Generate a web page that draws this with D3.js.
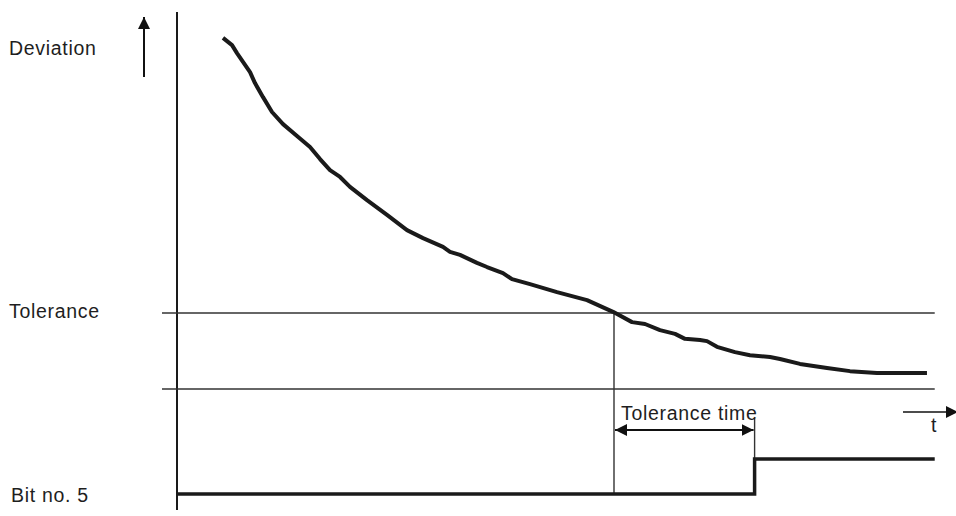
<!DOCTYPE html>
<html>
<head>
<meta charset="utf-8">
<script src="https://cdn.jsdelivr.net/npm/d3@7"></script>
<style>
  body { margin: 0; background: #fff; }
  text { font-family: "Liberation Sans", Arial, sans-serif; font-size: 19.5px; letter-spacing: 0.7px; fill: #1e1e1e; }
</style>
</head>
<body>
<div id="chart"></div>
<script>
// deviation curve (time 0..100, deviation 0..100)
const timeData = [6.05, 7.24, 7.89, 8.68, 9.61, 10.26, 11.32, 12.5, 13.95, 15.79, 17.5, 18.82,
  20.13, 21.45, 22.76, 25.0, 27.63, 30.26, 32.37, 35.0, 35.92, 37.24, 39.47, 40.79, 42.89,
  44.08, 46.45, 50.0, 53.95, 57.37, 59.87, 61.58, 63.55, 65.53, 66.84, 68.82, 69.74, 71.05,
  73.42, 75.39, 78.03, 79.34, 81.97, 85.53, 88.55, 92.1, 98.68];
const deviation = [92.4, 90.5, 88.4, 86.1, 83.4, 80.5, 76.8, 72.9, 69.7, 66.6, 63.7, 60.5,
  57.6, 55.8, 53.2, 49.7, 45.8, 41.8, 39.7, 37.4, 36.1, 35.3, 33.2, 32.1, 30.5,
  28.9, 27.6, 25.5, 23.4, 20.3, 17.6, 17.1, 15.5, 14.5, 13.2, 12.9, 12.6, 11.1,
  9.7, 8.9, 8.4, 7.9, 6.6, 5.5, 4.7, 4.2, 4.2];

const tolerance = 20;
const lowerLimit = 0;
const toleranceStart = 57.5;   // curve crosses tolerance
const bitSwitch = 76;          // bit no. 5 goes high
const bitTimes = [0, bitSwitch, bitSwitch, 99.7];
const bitValues = [0, 0, 1, 1];

const labels = { deviation: "Deviation", tolerance: "Tolerance", bit: "Bit no. 5", tolTime: "Tolerance time", t: "t" };

const width = 956, height = 516;

let xScale = d3.scaleLinear().domain([0, 100]).range([177, 937]);
let yScale = d3.scaleLinear().domain([0, 100]).range([389, 9]);
let bitScale = d3.scaleLinear().domain([0, 1]).range([494, 459]);

let svg = d3.select("#chart").append("svg")
  .attr("width", width).attr("height", height);

let defs = svg.append("defs");
defs.append("marker")
  .attr("id", "head")
  .attr("viewBox", "0 0 10 10")
  .attr("refX", 10).attr("refY", 5)
  .attr("markerWidth", 12).attr("markerHeight", 12)
  .attr("markerUnits", "userSpaceOnUse")
  .attr("orient", "auto-start-reverse")
  .append("path").attr("d", "M0,0 L10,5 L0,10 Z").attr("fill", "#111");
defs.append("marker")
  .attr("id", "bighead")
  .attr("viewBox", "0 0 10 10")
  .attr("refX", 10).attr("refY", 5)
  .attr("markerWidth", 12).attr("markerHeight", 14)
  .attr("markerUnits", "userSpaceOnUse")
  .attr("orient", "auto")
  .append("path").attr("d", "M0,0 L10,5 L0,10 Z").attr("fill", "#111");

// vertical axis
svg.append("line")
  .attr("x1", xScale(0)).attr("x2", xScale(0))
  .attr("y1", 12).attr("y2", 510)
  .attr("stroke", "#1a1a1a").attr("stroke-width", 2);

// deviation arrow
svg.append("line")
  .attr("x1", 144).attr("x2", 144)
  .attr("y1", 77).attr("y2", 17)
  .attr("stroke", "#111").attr("stroke-width", 2)
  .attr("marker-end", "url(#bighead)");

// tolerance and lower horizontal lines
svg.selectAll(".hline").data([tolerance, lowerLimit]).enter()
  .append("line")
  .attr("class", "hline")
  .attr("x1", xScale(0) - 15).attr("x2", xScale(99.7))
  .attr("y1", d => yScale(d)).attr("y2", d => yScale(d))
  .attr("stroke", "#333").attr("stroke-width", 1.4);

// vertical line at tolerance crossing
svg.append("line")
  .attr("x1", xScale(toleranceStart)).attr("x2", xScale(toleranceStart))
  .attr("y1", yScale(tolerance)).attr("y2", bitScale(0))
  .attr("stroke", "#333").attr("stroke-width", 1.4);

// thin line above the switch
svg.append("line")
  .attr("x1", xScale(bitSwitch)).attr("x2", xScale(bitSwitch))
  .attr("y1", bitScale(1) - 41).attr("y2", bitScale(1))
  .attr("stroke", "#333").attr("stroke-width", 1.4);

// tolerance time double arrow
svg.append("line")
  .attr("x1", xScale(toleranceStart) + 1).attr("x2", xScale(bitSwitch) - 1)
  .attr("y1", bitScale(1) - 29).attr("y2", bitScale(1) - 29)
  .attr("stroke", "#111").attr("stroke-width", 2)
  .attr("marker-start", "url(#head)")
  .attr("marker-end", "url(#head)");

// deviation curve
let line = d3.line()
  .x((d, i) => xScale(timeData[i]))
  .y(d => yScale(d));

svg.append("path")
  .attr("d", line(deviation))
  .attr("stroke", "#1a1a1a")
  .attr("stroke-width", 4)
  .attr("stroke-linejoin", "round")
  .attr("fill", "none");

// bit no. 5 signal
let bitLine = d3.line()
  .x((d, i) => xScale(bitTimes[i]))
  .y(d => bitScale(d));

svg.append("path")
  .attr("d", bitLine(bitValues))
  .attr("stroke", "#1a1a1a")
  .attr("stroke-width", 3.5)
  .attr("fill", "none");

// t arrow
svg.append("line")
  .attr("x1", 903).attr("x2", 958)
  .attr("y1", 412).attr("y2", 412)
  .attr("stroke", "#111").attr("stroke-width", 1.6)
  .attr("marker-end", "url(#head)");

// texts
svg.append("text").attr("x", 9).attr("y", 55).text(labels.deviation);
svg.append("text").attr("x", 9).attr("y", yScale(tolerance) + 5).text(labels.tolerance);
svg.append("text").attr("x", 11).attr("y", bitScale(0) + 8).text(labels.bit);
svg.append("text").attr("x", xScale(toleranceStart) + 7).attr("y", 420).text(labels.tolTime);
svg.append("text").attr("x", 931).attr("y", 432).text(labels.t);
</script>
</body>
</html>
